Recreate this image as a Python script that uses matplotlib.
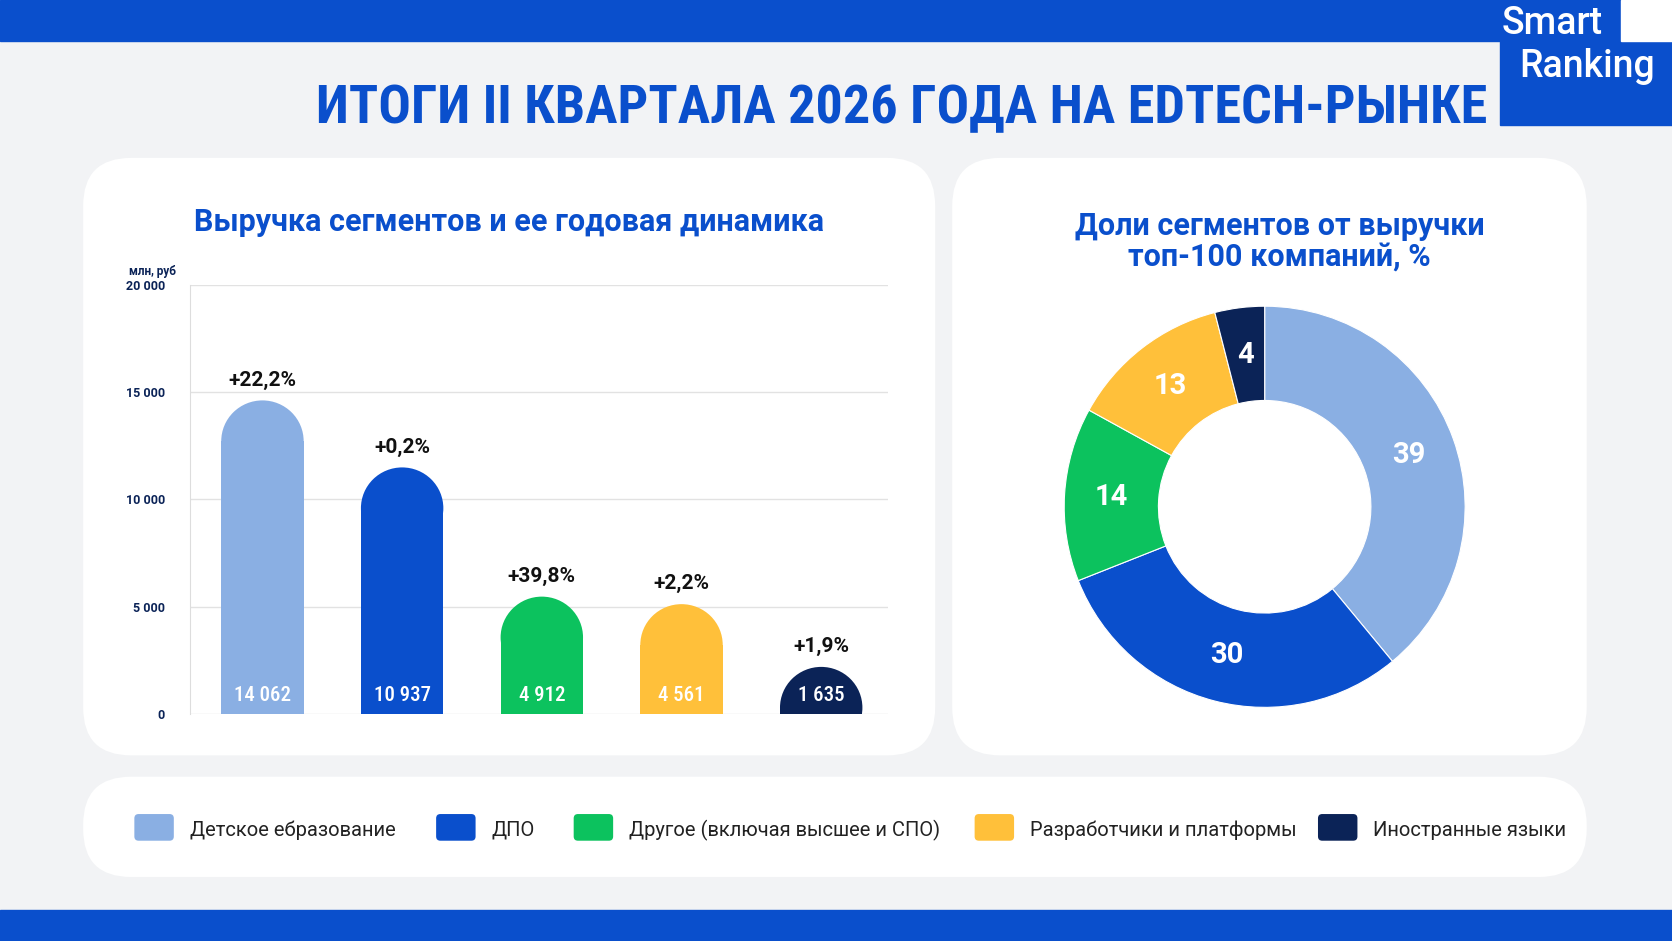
import matplotlib
matplotlib.use("Agg")
import matplotlib.pyplot as plt
from matplotlib.patches import FancyBboxPatch, Rectangle, Ellipse
import numpy as np

plt.rcParams['font.family'] = ['Roboto', 'DejaVu Sans']

categories = ["Детское ебразование", "ДПО", "Другое (включая высшее и СПО)",
              "Разработчики и платформы", "Иностранные языки"]
revenue = [14062, 10937, 4912, 4561, 1635]
revenue_labels = ["14 062", "10 937", "4 912", "4 561", "1 635"]
growth = ["+22,2%", "+0,2%", "+39,8%", "+2,2%", "+1,9%"]
shares = [39, 30, 14, 13, 4]
yticks = [0, 5000, 10000, 15000, 20000]
ytick_labels = ["0", "5 000", "10 000", "15 000", "20 000"]
colors = ["#8AAFE3", "#0A4FCC", "#0CC25E", "#FFC03A", "#0B2357"]
BLUE = "#0A4FCC"

W, H = 1568, 882
fig = plt.figure(figsize=(16.72, 9.41), dpi=100)
fig.patch.set_facecolor("#F2F3F5")
bg = fig.add_axes([0, 0, 1, 1]); bg.set_xlim(0, W); bg.set_ylim(H, 0); bg.axis("off")

def fx(x): return x / W
def fy(y): return 1 - y / H

bg.add_patch(Rectangle((0, 0), W, 38, color=BLUE))
bg.add_patch(Rectangle((0, 853), W, 29, color=BLUE))
bg.add_patch(Rectangle((1407, 0), 161, 117, color=BLUE))
bg.add_patch(Rectangle((1520, 0), 48, 38, color="white"))
bg.text(1408, 22, "Smart", color="white", fontsize=27, fontweight="medium", va="center", ha="left")
bg.text(1425, 62, "Ranking", color="white", fontsize=27, fontweight="medium", va="center", ha="left")
bg.text(1395, 102, "ИТОГИ II КВАРТАЛА 2026 ГОДА НА EDTECH-РЫНКЕ", color=BLUE,
        fontsize=39, fontweight="bold", ha="right", va="center",
        family=["Roboto Condensed", "Roboto", "DejaVu Sans"])

for (x0, y0, x1, y1) in [(78, 148, 877, 708), (893, 148, 1488, 708), (78, 728, 1488, 822)]:
    r = 45
    bg.add_patch(FancyBboxPatch((x0 + r, y0 + r), x1 - x0 - 2 * r, y1 - y0 - 2 * r,
                                boxstyle=f"round,pad={r}", fc="white", ec="none"))

bg.text(477, 208, "Выручка сегментов и ее годовая динамика", color=BLUE, fontsize=22,
        fontweight="bold", ha="center", va="center")
bg.text(1200, 226, "Доли сегментов от выручки\nтоп-100 компаний, %", color=BLUE, fontsize=22,
        fontweight="bold", ha="center", va="center", linespacing=1.05)

# Bar chart
ax = fig.add_axes([fx(178), fy(669), fx(833 - 178), (669 - 267) / H])
ax.set_xlim(-0.5, 4.5); ax.set_ylim(0, 20000)
ax.set_facecolor("none")
for s in ax.spines.values(): s.set_visible(False)
ax.spines["left"].set_visible(True); ax.spines["left"].set_color("#DDDDDD")
ax.set_yticks(yticks); ax.set_yticklabels(ytick_labels, fontsize=9, fontweight="bold", color="#0B2357")
ax.tick_params(axis="y", length=0, pad=18)
ax.set_xticks([])
ax.grid(axis="y", color="#E2E2E2", lw=1)
ax.set_axisbelow(True)
ax.text(-0.6, 20300, "млн, руб", fontsize=8.5, ha="right", va="bottom", color="#0B2357",
        fontweight="bold", clip_on=False)
bw = 0.59
ry = 1900
extra = 550
for i, v in enumerate(revenue):
    top = v + extra
    ax.add_patch(Rectangle((i + 0.02 - bw / 2, 0), bw, top - ry, color=colors[i], lw=0))
    ax.add_patch(Ellipse((i + 0.02, top - ry), bw, 2 * ry, color=colors[i], lw=0))
    ax.text(i + 0.02, top + 500, growth[i], ha="center", va="bottom", fontsize=15, fontweight="bold", color="#111111")
    ax.text(i + 0.02, 850, revenue_labels[i], ha="center", va="center", fontsize=15, color="white",
            family=["Roboto Condensed", "Roboto", "DejaVu Sans"], fontweight="medium")

# Donut
cx, cy, R = 1186, 475, 188
dax = fig.add_axes([fx(cx - R), fy(cy + R), 2 * R / W, 2 * R / H])
wedges, _ = dax.pie(shares, colors=colors, startangle=90, counterclock=False,
                    radius=1, wedgeprops=dict(width=0.47, edgecolor="white", linewidth=0.8))
dax.set_aspect("auto")
dax.set_xlim(-1, 1); dax.set_ylim(-1, 1)
for w, s in zip(wedges, shares):
    a = np.deg2rad((w.theta1 + w.theta2) / 2)
    rr = 0.765
    dax.text(rr * np.cos(a), rr * np.sin(a), str(s), ha="center", va="center",
             color="white", fontsize=21, fontweight="bold")

# Legend
lx = [126, 409, 538, 914, 1236]
for x, c, t in zip(lx, colors, categories):
    bg.add_patch(FancyBboxPatch((x + 4, 767), 29, 17, boxstyle="round,pad=4", fc=c, ec="none"))
    bg.text(x + 52, 778, t, fontsize=14.5, va="center", ha="left", color="#222222")

fig.savefig("out.png", dpi=100, facecolor=fig.get_facecolor())
